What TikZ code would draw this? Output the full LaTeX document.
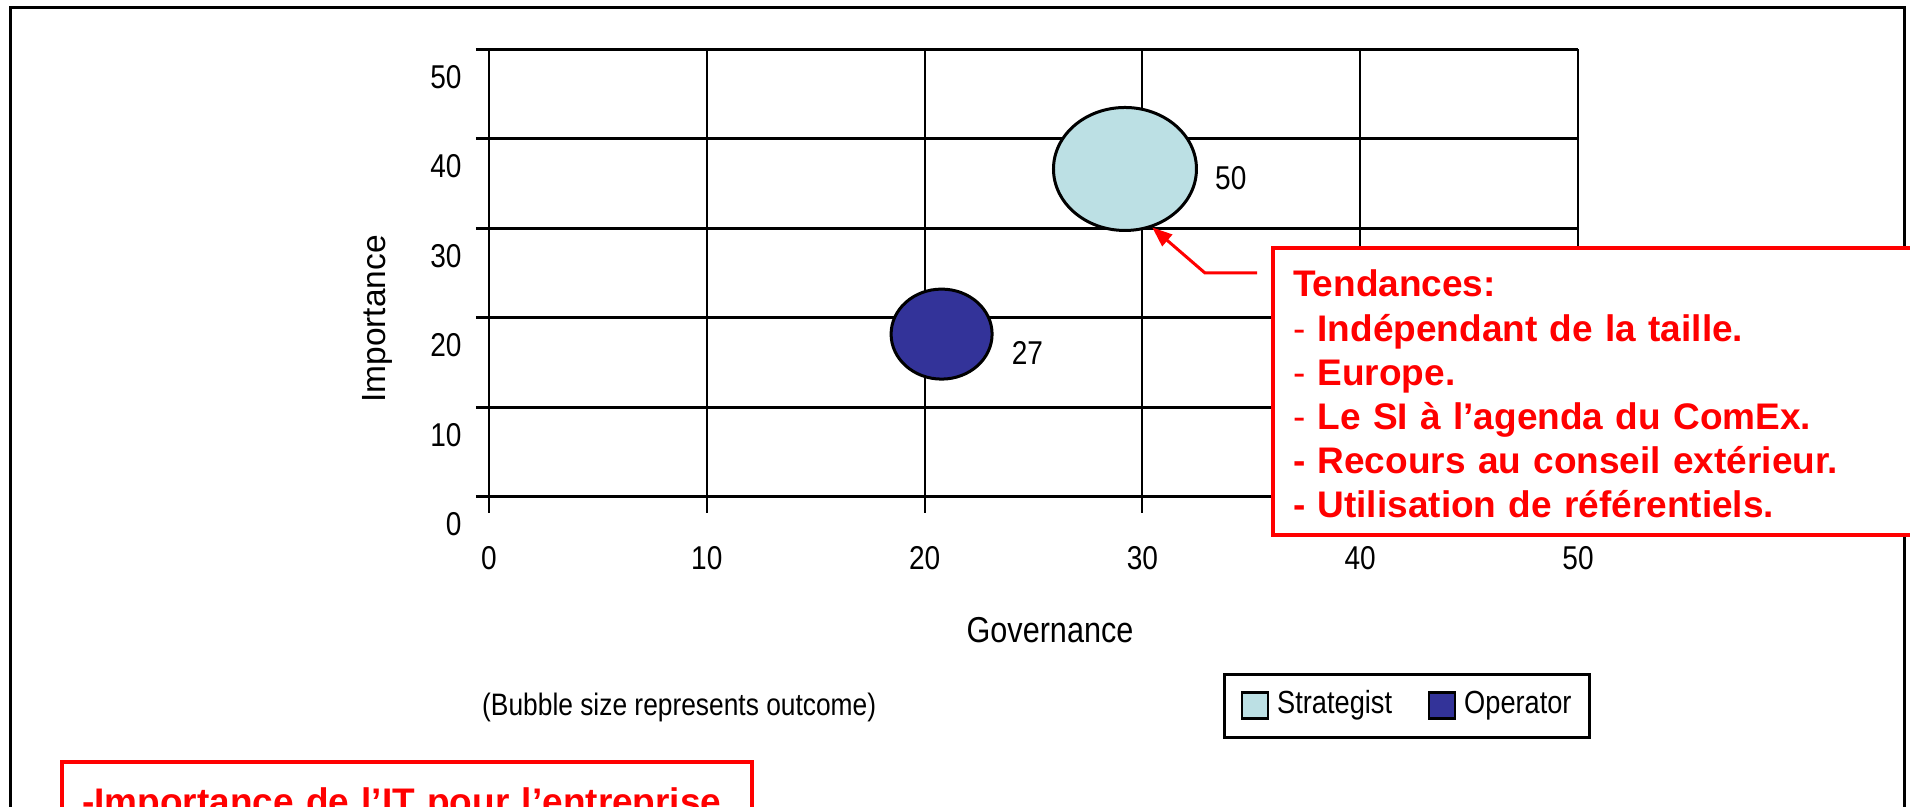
\documentclass[tikz,border=0pt]{standalone}
\usepackage{fontspec}
\setmainfont{Liberation Sans}
\newfontfamily\narrowfont[FakeStretch=0.85]{Liberation Sans}
\usetikzlibrary{positioning,arrows.meta,shapes.geometric}
\definecolor{stratblue}{RGB}{188,224,228}
\definecolor{operblue}{RGB}{51,51,153}

\begin{document}
\begin{tikzpicture}[x=1pt,y=1pt,
  frame/.style={draw=black,line width=3pt},
  hgrid/.style={line width=3pt},
  vgrid/.style={line width=2pt},
  tick label/.style={inner sep=0pt,font=\narrowfont\fontsize{33}{39}\selectfont},
  bubble/.style={ellipse,draw,line width=3pt,inner sep=0pt},
  strat bubble/.style={bubble,fill=stratblue,minimum width=143pt,minimum height=123pt},
  oper bubble/.style={bubble,fill=operblue,minimum width=101pt,minimum height=90pt},
  legend box/.style={draw,line width=3pt,minimum width=365pt,minimum height=63pt,inner sep=0pt},
  swatch/.style={draw,line width=2.5pt,minimum size=26pt,inner sep=0pt},
  legend text/.style={inner sep=0pt,font=\narrowfont\fontsize{32}{38}\selectfont},
  red box/.style={draw=red,fill=white,line width=4pt,outer sep=0pt,text=red,align=left,
    anchor=north west,inner xsep=20pt,font=\bfseries\fontsize{37}{44.2}\selectfont},
  callout/.style={draw=red,line width=3pt,-{Triangle[length=20pt,width=15pt]}}]

  \useasboundingbox (0,0) rectangle (1910,806);
  \clip (0,0) rectangle (1910,806);
  \draw[frame] (10,-40) rectangle (1904,798);

  % bubble chart
  \begin{scope}[shift={(489,309)},x=21.78pt,y=8.95pt]
    \foreach \v in {0,10,...,50}{
      \draw[vgrid] (\v,50) -- (\v,-1.8);
      \draw[hgrid] (-0.6,\v) -- (50,\v);
    }
    \foreach \v in {0,10,...,50}{
      \node[tick label,anchor=east] (ylab\v) at (-1.25,\v-3.07) {\v};
      \node[tick label] (xlab\v) at (\v,-6.8) {\v};
    }
    \node[strat bubble] (strat) at (29.2,36.65) {};
    \node[oper bubble] (oper) at (20.78,18.2) {};
  \end{scope}

  \node[tick label,right=17pt of strat,yshift=-9pt] (stratval) {50};
  \node[tick label,right=18pt of oper,yshift=-19pt] (operval) {27};

  \node[font=\fontsize{33.5}{40}\selectfont,rotate=90,inner sep=0pt] (ytitle) at (377,487) {Importance};
  \node[font=\narrowfont\fontsize{36}{43}\selectfont,inner sep=0pt,anchor=base] (xtitle) at (1050,164) {Governance};
  \node[font=\narrowfont\fontsize{31}{37}\selectfont,inner sep=0pt,anchor=base west] (note) at (482,91) {(Bubble size represents outcome)};

  % legend
  \node[legend box] (legend) at (1406.5,100.5) {};
  \node[swatch,fill=stratblue,right=18pt of legend.west] (sw1) {};
  \node[legend text,right=8pt of sw1] (lt1) {Strategist};
  \node[swatch,fill=operblue,right=205pt of legend.west] (sw2) {};
  \node[legend text,right=8pt of sw2] (lt2) {Operator};

  % red notes
  \node[red box,inner ysep=17pt,text width=660pt] (tend) at (1273,558)
    {\rule{0pt}{32pt}Tendances:\\
     {\mdseries -} Indépendant de la taille.\\
     {\mdseries -} Europe.\\
     {\mdseries -} Le SI à l’agenda du ComEx.\\
     - Recours au conseil extérieur.\\
     - Utilisation de référentiels.};
  \node[red box,inner ysep=26pt,text width=650pt] (itbox) at (62,44)
    {-Importance de l’IT pour l’entreprise.};

  \coordinate (cstart) at ([shift={(-16pt,-25pt)}]tend.north west);
  \coordinate (celbow) at ([shift={(-68pt,-25pt)}]tend.north west);
  \draw[callout] (cstart) -- (celbow) -- (strat.-65);

\end{tikzpicture}
\end{document}
